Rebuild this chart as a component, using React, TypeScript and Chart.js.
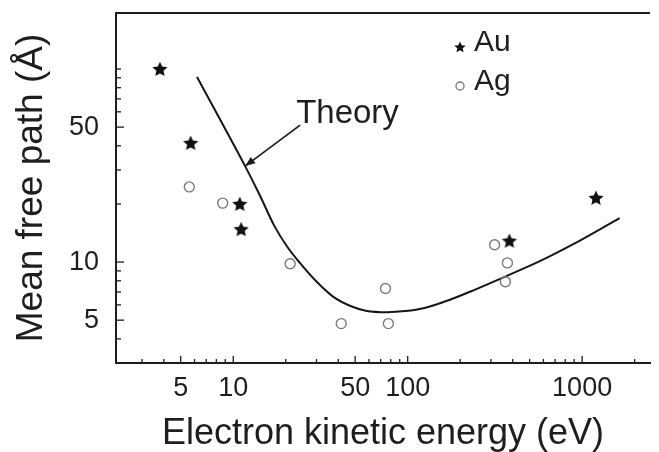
import React, { useEffect, useRef } from "react";
import { Chart, registerables } from "chart.js";

Chart.register(...registerables);

// ---- data ----
const auEnergy = [3.8, 5.7, 10.9, 11.1, 383, 1200];
const auPath = [100, 41.4, 20.0, 14.8, 12.9, 21.5];

const agEnergy = [5.6, 8.7, 21.2, 41.6, 74.6, 77.5, 315, 373, 363];
const agPath = [24.5, 20.2, 9.8, 4.8, 7.3, 4.8, 12.3, 9.9, 7.9];

const theoryEnergy = [6.2, 8.2, 11.7, 14.2, 17.2, 20.4, 24.1, 30.1, 37.5, 47.4, 57.5, 76.5, 96.7, 125, 173, 240, 368, 572, 878, 1640];
const theoryPath = [90.9, 57.1, 31.4, 22.2, 15.4, 12.0, 9.9, 7.9, 6.6, 5.9, 5.6, 5.5, 5.57, 5.78, 6.36, 7.16, 8.46, 10.1, 12.3, 16.9];

const xTickLabels = [5, 10, 50, 100, 1000];
const yTickLabels = [5, 10, 50];
const xMinorTicks = [3, 4, 6, 7, 8, 9, 20, 30, 40, 60, 70, 80, 90, 200, 300, 400, 500, 600, 700, 800, 900, 2000];
const yMinorTicks = [4, 6, 7, 8, 9, 20, 30, 40, 60, 70, 80, 90, 100];

const xRange = [2.128, 2449];
const yRange = [3.0, 195];

const FONT = "'Liberation Sans', Arial, Helvetica, sans-serif";
const INK = "#1e1e1e";

function makeStar(size: number, color: string): HTMLCanvasElement {
  const c = document.createElement("canvas");
  c.width = size;
  c.height = size;
  const ctx = c.getContext("2d")!;
  const cx = size / 2;
  const cy = size / 2 + size * 0.04;
  const R = size / 2;
  const r = R * 0.47;
  ctx.beginPath();
  for (let i = 0; i < 10; i++) {
    const a = -Math.PI / 2 + (i * Math.PI) / 5;
    const rad = i % 2 === 0 ? R : r;
    const px = cx + rad * Math.cos(a);
    const py = cy + rad * Math.sin(a);
    if (i === 0) ctx.moveTo(px, py);
    else ctx.lineTo(px, py);
  }
  ctx.closePath();
  ctx.fillStyle = color;
  ctx.fill();
  return c;
}

const decorPlugin = {
  id: "decor",
  afterDraw(chart: any) {
    const { ctx, chartArea } = chart;
    const { left, right, top, bottom } = chartArea;
    const xs = chart.scales.x;
    const ys = chart.scales.y;
    ctx.save();
    ctx.strokeStyle = INK;
    ctx.lineWidth = 2;
    // top frame line
    ctx.beginPath();
    ctx.moveTo(left, top);
    ctx.lineTo(right, top);
    ctx.stroke();

    // inward tick marks
    ctx.lineWidth = 1.3;
    const tickX = (v: number, len: number) => {
      const p = xs.getPixelForValue(v);
      if (p < left || p > right) return;
      ctx.beginPath();
      ctx.moveTo(p, bottom);
      ctx.lineTo(p, bottom - len);
      ctx.stroke();
    };
    const tickY = (v: number, len: number) => {
      const p = ys.getPixelForValue(v);
      if (p < top || p > bottom) return;
      ctx.beginPath();
      ctx.moveTo(left, p);
      ctx.lineTo(left + len, p);
      ctx.stroke();
    };
    xTickLabels.forEach((v) => tickX(v, 7));
    xMinorTicks.forEach((v) => tickX(v, 4));
    yTickLabels.forEach((v) => tickY(v, 8));
    yMinorTicks.forEach((v) => tickY(v, 5));

    // "Theory" annotation with arrow pointing at the curve
    const tipX = xs.getPixelForValue(theoryEnergy[2]);
    const tipY = ys.getPixelForValue(theoryPath[2]);
    const tailX = tipX + 55;
    const tailY = tipY - 41;
    ctx.strokeStyle = INK;
    ctx.fillStyle = INK;
    ctx.lineWidth = 1.8;
    ctx.beginPath();
    ctx.moveTo(tailX, tailY);
    ctx.lineTo(tipX, tipY);
    ctx.stroke();
    const ang = Math.atan2(tipY - tailY, tipX - tailX);
    const ah = 10;
    const aw = 4;
    ctx.beginPath();
    ctx.moveTo(tipX, tipY);
    ctx.lineTo(
      tipX - ah * Math.cos(ang) + aw * Math.sin(ang),
      tipY - ah * Math.sin(ang) - aw * Math.cos(ang)
    );
    ctx.lineTo(
      tipX - ah * Math.cos(ang) - aw * Math.sin(ang),
      tipY - ah * Math.sin(ang) + aw * Math.cos(ang)
    );
    ctx.closePath();
    ctx.fill();
    ctx.font = `33px ${FONT}`;
    ctx.textAlign = "left";
    ctx.textBaseline = "alphabetic";
    ctx.fillText("Theory", tipX + 51, tipY - 43);

    // legend (from the scatter datasets)
    const legendX = left + 344;
    const rows = [top + 34, top + 73];
    const ds = chart.data.datasets.filter((d: any) => d.showInLegend);
    ds.forEach((d: any, i: number) => {
      const cy = rows[i];
      const mx = legendX;
      if (d.legendStar) {
        const img = d.legendStar as HTMLCanvasElement;
        ctx.drawImage(img, mx - img.width / 2, cy - img.height / 2);
      } else {
        ctx.beginPath();
        ctx.strokeStyle = d.borderColor;
        ctx.lineWidth = 1.3;
        ctx.arc(mx, cy, 4, 0, Math.PI * 2);
        ctx.stroke();
      }
      ctx.fillStyle = INK;
      ctx.font = `30px ${FONT}`;
      ctx.textAlign = "left";
      ctx.textBaseline = "middle";
      ctx.fillText(d.label, mx + 14, cy - 4);
    });
    ctx.restore();
  },
};

export default function App() {
  const canvasRef = useRef<HTMLCanvasElement | null>(null);

  useEffect(() => {
    const canvas = canvasRef.current;
    if (!canvas) return;
    const starPoint = makeStar(16, "#111");
    const starLegend = makeStar(12, "#111");

    const chart = new Chart(canvas, {
      type: "scatter",
      data: {
        datasets: [
          {
            label: "Theory",
            type: "line",
            data: theoryEnergy.map((e, i) => ({ x: e, y: theoryPath[i] })),
            borderColor: "#161616",
            borderWidth: 2,
            pointRadius: 0,
            fill: false,
            cubicInterpolationMode: "monotone",
            order: 2,
          } as any,
          {
            label: "Au",
            data: auEnergy.map((e, i) => ({ x: e, y: auPath[i] })),
            pointStyle: starPoint,
            pointRadius: 8,
            showInLegend: true,
            legendStar: starLegend,
            order: 0,
          } as any,
          {
            label: "Ag",
            data: agEnergy.map((e, i) => ({ x: e, y: agPath[i] })),
            pointStyle: "circle",
            pointRadius: 5,
            borderColor: "#7a7a7a",
            backgroundColor: "rgba(0,0,0,0)",
            borderWidth: 1.4,
            showInLegend: true,
            order: 1,
          } as any,
        ],
      },
      options: {
        responsive: false,
        animation: false,
        devicePixelRatio: 1,
        layout: { padding: { top: 13, right: 0, left: 0, bottom: 0 } },
        plugins: {
          legend: { display: false },
          tooltip: { enabled: false },
        },
        scales: {
          x: {
            type: "logarithmic",
            position: "bottom",
            min: xRange[0],
            max: xRange[1],
            grid: { display: false, drawTicks: false },
            border: { display: true, color: INK, width: 2 },
            afterBuildTicks: (scale: any) => {
              scale.ticks = xTickLabels.map((v) => ({ value: v }));
            },
            afterFit: (scale: any) => {
              scale.height = 89;
              scale.paddingLeft = 0;
              scale.paddingRight = 0;
              scale.paddingTop = 0;
              scale.paddingBottom = 0;
            },
            ticks: {
              autoSkip: false,
              maxRotation: 0,
              minRotation: 0,
              padding: 9,
              color: INK,
              font: { family: FONT, size: 27 },
              callback: (v: any) => String(v),
            },
            title: {
              display: true,
              text: "Electron kinetic energy (eV)",
              color: INK,
              font: { family: FONT, size: 36, lineHeight: 1 },
              padding: { top: 0, bottom: 0 },
            },
          },
          y: {
            type: "logarithmic",
            position: "left",
            min: yRange[0],
            max: yRange[1],
            grid: { display: false, drawTicks: false },
            border: { display: true, color: INK, width: 2 },
            afterBuildTicks: (scale: any) => {
              scale.ticks = yTickLabels.map((v) => ({ value: v }));
            },
            afterFit: (scale: any) => {
              scale.width = 116;
              scale.paddingLeft = 0;
              scale.paddingRight = 0;
              scale.paddingTop = 0;
              scale.paddingBottom = 0;
            },
            ticks: {
              autoSkip: false,
              padding: 17,
              color: INK,
              font: { family: FONT, size: 27 },
              callback: (v: any) => String(v),
            },
            title: {
              display: true,
              text: "Mean free path (Å)",
              color: INK,
              font: { family: FONT, size: 37, lineHeight: 1 },
              padding: { top: 13, bottom: 0 },
            },
          },
        },
      } as any,
      plugins: [decorPlugin],
    });

    return () => {
      chart.destroy();
    };
  }, []);

  return (
    <div
      style={{
        position: "fixed",
        left: 0,
        top: 0,
        width: 659,
        height: 452,
        background: "#ffffff",
      }}
    >
      <canvas ref={canvasRef} width={659} height={452} style={{ display: "block" }} />
    </div>
  );
}
